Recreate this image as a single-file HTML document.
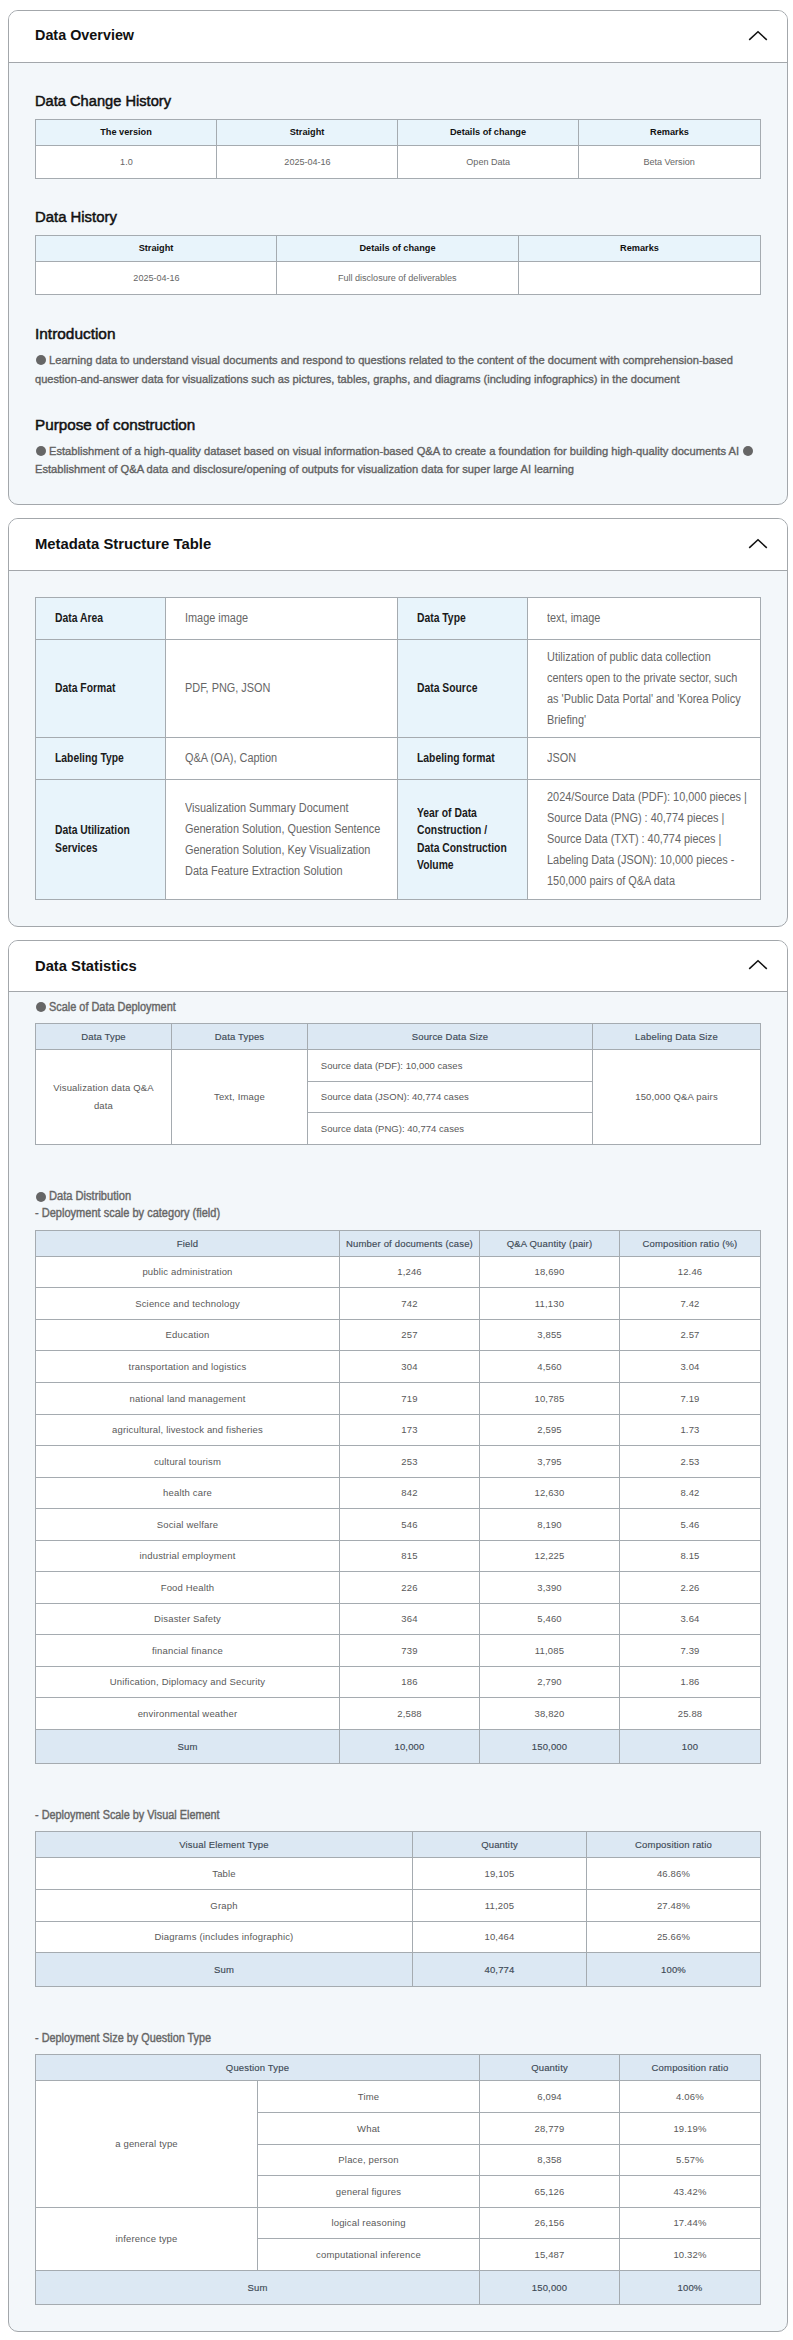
<!DOCTYPE html><html><head><meta charset="utf-8"><style>
*{margin:0;padding:0;box-sizing:border-box}
html,body{width:793px;height:2340px;overflow:hidden;background:#fff;font-family:"Liberation Sans",sans-serif}
body{position:relative}
.card{position:absolute;left:8px;width:780px;border:1px solid #a3a7ab;border-radius:10px;background:#f3f7fa;overflow:hidden}
.ch{background:#fff;border-bottom:1px solid #a3a7ab}
.chev{position:absolute;left:746px}
.t{position:absolute;white-space:nowrap;transform-origin:0 50%}
.title{font-weight:bold;color:#111111}
.h3{color:#111111;-webkit-text-stroke:0.5px #111111}
.p{color:#606060;-webkit-text-stroke:0.35px #606060}
.p3{color:#666666;-webkit-text-stroke:0.4px #666666}
.bul{position:absolute;border-radius:50%;background:#666}
.c{position:absolute;border:1px solid #a5abb0;display:flex;align-items:center;justify-content:center;text-align:center;white-space:nowrap}
.c span{display:block}
.th1{font-size:9.2px;font-weight:bold;color:#111111}
.th1 span{transform:scaleX(1.0)}
.th1{padding-bottom:1.4px}
.td1{font-size:9.2px;color:#666666}
.td1 span{transform:scaleX(0.985)}
.th2{font-size:12.3px;font-weight:bold;color:#1a1a1a;justify-content:flex-start;text-align:left;padding-left:19.4px;line-height:17.5px}
.th2 span{transform:scaleX(0.842);transform-origin:0 50%}
.td2{font-size:12.3px;color:#666666;justify-content:flex-start;text-align:left;padding-left:19.2px;line-height:21px}
.td2 span{transform:scaleX(0.887);transform-origin:0 50%}
.th3{font-size:9.5px;color:#3e4a56;letter-spacing:0.17px;-webkit-text-stroke:0.15px #3e4a56}
.td3{font-size:9.5px;color:#595959;letter-spacing:0.17px;padding-bottom:0.8px}
.td3.lh{line-height:17.4px}
.td3.left{justify-content:flex-start;padding-left:12.8px;letter-spacing:0.02px}
</style></head><body>
<div class="card" style="top:10px;height:495px"><div class="ch" style="height:52px"></div></div>
<div class="card" style="top:518px;height:409px"><div class="ch" style="height:52px"></div></div>
<div class="card" style="top:940px;height:1392px"><div class="ch" style="height:51px"></div></div>
<svg class="chev" style="top:25.5px" width="24" height="20" viewBox="0 0 24 20"><polyline points="3.2,13.9 12,5.7 20.8,13.9" fill="none" stroke="#111" stroke-width="1.5"/></svg>
<svg class="chev" style="top:533.5px" width="24" height="20" viewBox="0 0 24 20"><polyline points="3.2,13.9 12,5.7 20.8,13.9" fill="none" stroke="#111" stroke-width="1.5"/></svg>
<svg class="chev" style="top:955.1px" width="24" height="20" viewBox="0 0 24 20"><polyline points="3.2,13.9 12,5.7 20.8,13.9" fill="none" stroke="#111" stroke-width="1.5"/></svg>
<div class="t title" style="left:35.04px;top:26.43px;font-size:15.5px;line-height:18.6px;transform:scaleX(0.9271);">Data Overview</div>
<div class="t title" style="left:35.02px;top:534.53px;font-size:15.5px;line-height:18.6px;transform:scaleX(0.9571);">Metadata Structure Table</div>
<div class="t title" style="left:35.02px;top:956.53px;font-size:15.5px;line-height:18.6px;transform:scaleX(0.9519);">Data Statistics</div>
<div class="t h3" style="left:35.40px;top:91.73px;font-size:15.5px;line-height:18.6px;transform:scaleX(0.9451);">Data Change History</div>
<div class="c th1" style="left:35px;top:119px;width:182px;height:27px;background:#e8f4fb"><span>The version</span></div>
<div class="c td1" style="left:35px;top:145px;width:182px;height:34px;background:#fff"><span>1.0</span></div>
<div class="c th1" style="left:216px;top:119px;width:182px;height:27px;background:#e8f4fb"><span>Straight</span></div>
<div class="c td1" style="left:216px;top:145px;width:182px;height:34px;background:#fff"><span>2025-04-16</span></div>
<div class="c th1" style="left:397px;top:119px;width:182px;height:27px;background:#e8f4fb"><span>Details of change</span></div>
<div class="c td1" style="left:397px;top:145px;width:182px;height:34px;background:#fff"><span>Open Data</span></div>
<div class="c th1" style="left:578px;top:119px;width:183px;height:27px;background:#e8f4fb"><span>Remarks</span></div>
<div class="c td1" style="left:578px;top:145px;width:183px;height:34px;background:#fff"><span>Beta Version</span></div>
<div class="t h3" style="left:34.62px;top:207.83px;font-size:15.5px;line-height:18.6px;transform:scaleX(0.9600);">Data History</div>
<div class="c th1" style="left:35px;top:235px;width:242px;height:27px;background:#e8f4fb"><span>Straight</span></div>
<div class="c td1" style="left:35px;top:261px;width:242px;height:34px;background:#fff"><span>2025-04-16</span></div>
<div class="c th1" style="left:276px;top:235px;width:243px;height:27px;background:#e8f4fb"><span>Details of change</span></div>
<div class="c td1" style="left:276px;top:261px;width:243px;height:34px;background:#fff"><span>Full disclosure of deliverables</span></div>
<div class="c th1" style="left:518px;top:235px;width:243px;height:27px;background:#e8f4fb"><span>Remarks</span></div>
<div class="c td1" style="left:518px;top:261px;width:243px;height:34px;background:#fff"><span></span></div>
<div class="t h3" style="left:35.00px;top:324.73px;font-size:15.5px;line-height:18.6px;transform:scaleX(0.9938);">Introduction</div>
<div class="bul" style="left:36px;top:355.00px;width:10px;height:10px"></div>
<div class="t p" style="left:49.03px;top:353.13px;font-size:11.8px;line-height:14.16px;transform:scaleX(0.9447);">Learning data to understand visual documents and respond to questions related to the content of the document with comprehension-based</div>
<div class="t p" style="left:35.00px;top:371.53px;font-size:11.8px;line-height:14.16px;transform:scaleX(0.9396);">question-and-answer data for visualizations such as pictures, tables, graphs, and diagrams (including infographics) in the document</div>
<div class="t h3" style="left:35.01px;top:415.73px;font-size:15.5px;line-height:18.6px;transform:scaleX(0.9846);">Purpose of construction</div>
<div class="bul" style="left:36px;top:446.00px;width:10px;height:10px"></div>
<div class="t p" style="left:49.03px;top:444.13px;font-size:11.8px;line-height:14.16px;transform:scaleX(0.9454);">Establishment of a high-quality dataset based on visual information-based Q&amp;A to create a foundation for building high-quality documents AI</div>
<div class="bul" style="left:743px;top:446.00px;width:10px;height:10px"></div>
<div class="t p" style="left:35.00px;top:461.73px;font-size:11.8px;line-height:14.16px;transform:scaleX(0.9456);">Establishment of Q&amp;A data and disclosure/opening of outputs for visualization data for super large AI learning</div>
<div class="c th2" style="left:35px;top:597px;width:131px;height:43px;background:#e8f4fb"><span>Data Area</span></div>
<div class="c td2" style="left:165px;top:597px;width:233px;height:43px;background:#fff"><span>Image image</span></div>
<div class="c th2" style="left:397px;top:597px;width:131px;height:43px;background:#e8f4fb"><span>Data Type</span></div>
<div class="c td2" style="left:527px;top:597px;width:234px;height:43px;background:#fff"><span>text, image</span></div>
<div class="c th2" style="left:35px;top:639px;width:131px;height:99px;background:#e8f4fb"><span>Data Format</span></div>
<div class="c td2" style="left:165px;top:639px;width:233px;height:99px;background:#fff"><span>PDF, PNG, JSON</span></div>
<div class="c th2" style="left:397px;top:639px;width:131px;height:99px;background:#e8f4fb"><span>Data Source</span></div>
<div class="c td2" style="left:527px;top:639px;width:234px;height:99px;background:#fff"><span>Utilization of public data collection<br>centers open to the private sector, such<br>as 'Public Data Portal' and 'Korea Policy<br>Briefing'</span></div>
<div class="c th2" style="left:35px;top:737px;width:131px;height:43px;background:#e8f4fb"><span>Labeling Type</span></div>
<div class="c td2" style="left:165px;top:737px;width:233px;height:43px;background:#fff"><span>Q&amp;A (OA), Caption</span></div>
<div class="c th2" style="left:397px;top:737px;width:131px;height:43px;background:#e8f4fb"><span>Labeling format</span></div>
<div class="c td2" style="left:527px;top:737px;width:234px;height:43px;background:#fff"><span>JSON</span></div>
<div class="c th2" style="left:35px;top:779px;width:131px;height:121px;background:#e8f4fb"><span>Data Utilization<br>Services</span></div>
<div class="c td2" style="left:165px;top:779px;width:233px;height:121px;background:#fff"><span>Visualization Summary Document<br>Generation Solution, Question Sentence<br>Generation Solution, Key Visualization<br>Data Feature Extraction Solution</span></div>
<div class="c th2" style="left:397px;top:779px;width:131px;height:121px;background:#e8f4fb"><span>Year of Data<br>Construction /<br>Data Construction<br>Volume</span></div>
<div class="c td2" style="left:527px;top:779px;width:234px;height:121px;background:#fff"><span>2024/Source Data (PDF): 10,000 pieces |<br>Source Data (PNG) : 40,774 pieces |<br>Source Data (TXT) : 40,774 pieces |<br>Labeling Data (JSON): 10,000 pieces -<br>150,000 pairs of Q&amp;A data</span></div>
<div class="bul" style="left:36px;top:1001.90px;width:10px;height:10px"></div>
<div class="t p3" style="left:48.85px;top:999.84px;font-size:12px;line-height:14.4px;transform:scaleX(0.9094);">Scale of Data Deployment</div>
<div class="c th3" style="left:35px;top:1023px;width:137px;height:27px;background:#dce8f3"><span>Data Type</span></div>
<div class="c th3" style="left:171px;top:1023px;width:137px;height:27px;background:#dce8f3"><span>Data Types</span></div>
<div class="c th3" style="left:307px;top:1023px;width:286px;height:27px;background:#dce8f3"><span>Source Data Size</span></div>
<div class="c th3" style="left:592px;top:1023px;width:169px;height:27px;background:#dce8f3"><span>Labeling Data Size</span></div>
<div class="c td3 lh" style="left:35px;top:1049px;width:137px;height:96px;background:#fff"><span>Visualization data Q&amp;A<br>data</span></div>
<div class="c td3" style="left:171px;top:1049px;width:137px;height:96px;background:#fff"><span>Text, Image</span></div>
<div class="c td3 left" style="left:307px;top:1049px;width:286px;height:33px;background:#fff"><span>Source data (PDF): 10,000 cases</span></div>
<div class="c td3 left" style="left:307px;top:1081px;width:286px;height:32px;background:#fff"><span>Source data (JSON): 40,774 cases</span></div>
<div class="c td3 left" style="left:307px;top:1112px;width:286px;height:33px;background:#fff"><span>Source data (PNG): 40,774 cases</span></div>
<div class="c td3" style="left:592px;top:1049px;width:169px;height:96px;background:#fff"><span>150,000 Q&amp;A pairs</span></div>
<div class="bul" style="left:36px;top:1191.70px;width:10px;height:10px"></div>
<div class="t p3" style="left:48.84px;top:1189.24px;font-size:12px;line-height:14.4px;transform:scaleX(0.9261);">Data Distribution</div>
<div class="t p3" style="left:35.00px;top:1206.44px;font-size:12px;line-height:14.4px;transform:scaleX(0.9189);">- Deployment scale by category (field)</div>
<div class="c th3" style="left:35px;top:1230px;width:305px;height:27px;background:#dce8f3"><span>Field</span></div>
<div class="c th3" style="left:339px;top:1230px;width:141px;height:27px;background:#dce8f3"><span>Number of documents (case)</span></div>
<div class="c th3" style="left:479px;top:1230px;width:141px;height:27px;background:#dce8f3"><span>Q&amp;A Quantity (pair)</span></div>
<div class="c th3" style="left:619px;top:1230px;width:142px;height:27px;background:#dce8f3"><span>Composition ratio (%)</span></div>
<div class="c td3" style="left:35px;top:1256px;width:305px;height:32px;background:#fff"><span>public administration</span></div>
<div class="c td3" style="left:339px;top:1256px;width:141px;height:32px;background:#fff"><span>1,246</span></div>
<div class="c td3" style="left:479px;top:1256px;width:141px;height:32px;background:#fff"><span>18,690</span></div>
<div class="c td3" style="left:619px;top:1256px;width:142px;height:32px;background:#fff"><span>12.46</span></div>
<div class="c td3" style="left:35px;top:1287px;width:305px;height:33px;background:#fff"><span>Science and technology</span></div>
<div class="c td3" style="left:339px;top:1287px;width:141px;height:33px;background:#fff"><span>742</span></div>
<div class="c td3" style="left:479px;top:1287px;width:141px;height:33px;background:#fff"><span>11,130</span></div>
<div class="c td3" style="left:619px;top:1287px;width:142px;height:33px;background:#fff"><span>7.42</span></div>
<div class="c td3" style="left:35px;top:1319px;width:305px;height:32px;background:#fff"><span>Education</span></div>
<div class="c td3" style="left:339px;top:1319px;width:141px;height:32px;background:#fff"><span>257</span></div>
<div class="c td3" style="left:479px;top:1319px;width:141px;height:32px;background:#fff"><span>3,855</span></div>
<div class="c td3" style="left:619px;top:1319px;width:142px;height:32px;background:#fff"><span>2.57</span></div>
<div class="c td3" style="left:35px;top:1350px;width:305px;height:33px;background:#fff"><span>transportation and logistics</span></div>
<div class="c td3" style="left:339px;top:1350px;width:141px;height:33px;background:#fff"><span>304</span></div>
<div class="c td3" style="left:479px;top:1350px;width:141px;height:33px;background:#fff"><span>4,560</span></div>
<div class="c td3" style="left:619px;top:1350px;width:142px;height:33px;background:#fff"><span>3.04</span></div>
<div class="c td3" style="left:35px;top:1382px;width:305px;height:33px;background:#fff"><span>national land management</span></div>
<div class="c td3" style="left:339px;top:1382px;width:141px;height:33px;background:#fff"><span>719</span></div>
<div class="c td3" style="left:479px;top:1382px;width:141px;height:33px;background:#fff"><span>10,785</span></div>
<div class="c td3" style="left:619px;top:1382px;width:142px;height:33px;background:#fff"><span>7.19</span></div>
<div class="c td3" style="left:35px;top:1414px;width:305px;height:32px;background:#fff"><span>agricultural, livestock and fisheries</span></div>
<div class="c td3" style="left:339px;top:1414px;width:141px;height:32px;background:#fff"><span>173</span></div>
<div class="c td3" style="left:479px;top:1414px;width:141px;height:32px;background:#fff"><span>2,595</span></div>
<div class="c td3" style="left:619px;top:1414px;width:142px;height:32px;background:#fff"><span>1.73</span></div>
<div class="c td3" style="left:35px;top:1445px;width:305px;height:33px;background:#fff"><span>cultural tourism</span></div>
<div class="c td3" style="left:339px;top:1445px;width:141px;height:33px;background:#fff"><span>253</span></div>
<div class="c td3" style="left:479px;top:1445px;width:141px;height:33px;background:#fff"><span>3,795</span></div>
<div class="c td3" style="left:619px;top:1445px;width:142px;height:33px;background:#fff"><span>2.53</span></div>
<div class="c td3" style="left:35px;top:1477px;width:305px;height:32px;background:#fff"><span>health care</span></div>
<div class="c td3" style="left:339px;top:1477px;width:141px;height:32px;background:#fff"><span>842</span></div>
<div class="c td3" style="left:479px;top:1477px;width:141px;height:32px;background:#fff"><span>12,630</span></div>
<div class="c td3" style="left:619px;top:1477px;width:142px;height:32px;background:#fff"><span>8.42</span></div>
<div class="c td3" style="left:35px;top:1508px;width:305px;height:33px;background:#fff"><span>Social welfare</span></div>
<div class="c td3" style="left:339px;top:1508px;width:141px;height:33px;background:#fff"><span>546</span></div>
<div class="c td3" style="left:479px;top:1508px;width:141px;height:33px;background:#fff"><span>8,190</span></div>
<div class="c td3" style="left:619px;top:1508px;width:142px;height:33px;background:#fff"><span>5.46</span></div>
<div class="c td3" style="left:35px;top:1540px;width:305px;height:32px;background:#fff"><span>industrial employment</span></div>
<div class="c td3" style="left:339px;top:1540px;width:141px;height:32px;background:#fff"><span>815</span></div>
<div class="c td3" style="left:479px;top:1540px;width:141px;height:32px;background:#fff"><span>12,225</span></div>
<div class="c td3" style="left:619px;top:1540px;width:142px;height:32px;background:#fff"><span>8.15</span></div>
<div class="c td3" style="left:35px;top:1571px;width:305px;height:33px;background:#fff"><span>Food Health</span></div>
<div class="c td3" style="left:339px;top:1571px;width:141px;height:33px;background:#fff"><span>226</span></div>
<div class="c td3" style="left:479px;top:1571px;width:141px;height:33px;background:#fff"><span>3,390</span></div>
<div class="c td3" style="left:619px;top:1571px;width:142px;height:33px;background:#fff"><span>2.26</span></div>
<div class="c td3" style="left:35px;top:1603px;width:305px;height:32px;background:#fff"><span>Disaster Safety</span></div>
<div class="c td3" style="left:339px;top:1603px;width:141px;height:32px;background:#fff"><span>364</span></div>
<div class="c td3" style="left:479px;top:1603px;width:141px;height:32px;background:#fff"><span>5,460</span></div>
<div class="c td3" style="left:619px;top:1603px;width:142px;height:32px;background:#fff"><span>3.64</span></div>
<div class="c td3" style="left:35px;top:1634px;width:305px;height:33px;background:#fff"><span>financial finance</span></div>
<div class="c td3" style="left:339px;top:1634px;width:141px;height:33px;background:#fff"><span>739</span></div>
<div class="c td3" style="left:479px;top:1634px;width:141px;height:33px;background:#fff"><span>11,085</span></div>
<div class="c td3" style="left:619px;top:1634px;width:142px;height:33px;background:#fff"><span>7.39</span></div>
<div class="c td3" style="left:35px;top:1666px;width:305px;height:32px;background:#fff"><span>Unification, Diplomacy and Security</span></div>
<div class="c td3" style="left:339px;top:1666px;width:141px;height:32px;background:#fff"><span>186</span></div>
<div class="c td3" style="left:479px;top:1666px;width:141px;height:32px;background:#fff"><span>2,790</span></div>
<div class="c td3" style="left:619px;top:1666px;width:142px;height:32px;background:#fff"><span>1.86</span></div>
<div class="c td3" style="left:35px;top:1697px;width:305px;height:33px;background:#fff"><span>environmental weather</span></div>
<div class="c td3" style="left:339px;top:1697px;width:141px;height:33px;background:#fff"><span>2,588</span></div>
<div class="c td3" style="left:479px;top:1697px;width:141px;height:33px;background:#fff"><span>38,820</span></div>
<div class="c td3" style="left:619px;top:1697px;width:142px;height:33px;background:#fff"><span>25.88</span></div>
<div class="c th3" style="left:35px;top:1729px;width:305px;height:35px;background:#dce8f3"><span>Sum</span></div>
<div class="c th3" style="left:339px;top:1729px;width:141px;height:35px;background:#dce8f3"><span>10,000</span></div>
<div class="c th3" style="left:479px;top:1729px;width:141px;height:35px;background:#dce8f3"><span>150,000</span></div>
<div class="c th3" style="left:619px;top:1729px;width:142px;height:35px;background:#dce8f3"><span>100</span></div>
<div class="t p3" style="left:35.00px;top:1807.54px;font-size:12px;line-height:14.4px;transform:scaleX(0.9054);">- Deployment Scale by Visual Element</div>
<div class="c th3" style="left:35px;top:1831px;width:378px;height:27px;background:#dce8f3"><span>Visual Element Type</span></div>
<div class="c th3" style="left:412px;top:1831px;width:175px;height:27px;background:#dce8f3"><span>Quantity</span></div>
<div class="c th3" style="left:586px;top:1831px;width:175px;height:27px;background:#dce8f3"><span>Composition ratio</span></div>
<div class="c td3" style="left:35px;top:1857px;width:378px;height:33px;background:#fff"><span>Table</span></div>
<div class="c td3" style="left:412px;top:1857px;width:175px;height:33px;background:#fff"><span>19,105</span></div>
<div class="c td3" style="left:586px;top:1857px;width:175px;height:33px;background:#fff"><span>46.86%</span></div>
<div class="c td3" style="left:35px;top:1889px;width:378px;height:33px;background:#fff"><span>Graph</span></div>
<div class="c td3" style="left:412px;top:1889px;width:175px;height:33px;background:#fff"><span>11,205</span></div>
<div class="c td3" style="left:586px;top:1889px;width:175px;height:33px;background:#fff"><span>27.48%</span></div>
<div class="c td3" style="left:35px;top:1921px;width:378px;height:32px;background:#fff"><span>Diagrams (includes infographic)</span></div>
<div class="c td3" style="left:412px;top:1921px;width:175px;height:32px;background:#fff"><span>10,464</span></div>
<div class="c td3" style="left:586px;top:1921px;width:175px;height:32px;background:#fff"><span>25.66%</span></div>
<div class="c th3" style="left:35px;top:1952px;width:378px;height:35px;background:#dce8f3"><span>Sum</span></div>
<div class="c th3" style="left:412px;top:1952px;width:175px;height:35px;background:#dce8f3"><span>40,774</span></div>
<div class="c th3" style="left:586px;top:1952px;width:175px;height:35px;background:#dce8f3"><span>100%</span></div>
<div class="t p3" style="left:35.00px;top:2030.74px;font-size:12px;line-height:14.4px;transform:scaleX(0.9052);">- Deployment Size by Question Type</div>
<div class="c th3" style="left:35px;top:2054px;width:445px;height:27px;background:#dce8f3"><span>Question Type</span></div>
<div class="c th3" style="left:479px;top:2054px;width:141px;height:27px;background:#dce8f3"><span>Quantity</span></div>
<div class="c th3" style="left:619px;top:2054px;width:142px;height:27px;background:#dce8f3"><span>Composition ratio</span></div>
<div class="c td3" style="left:35px;top:2080px;width:223px;height:128px;background:#fff"><span>a general type</span></div>
<div class="c td3" style="left:35px;top:2207px;width:223px;height:64px;background:#fff"><span>inference type</span></div>
<div class="c td3" style="left:257px;top:2080px;width:223px;height:33px;background:#fff"><span>Time</span></div>
<div class="c td3" style="left:479px;top:2080px;width:141px;height:33px;background:#fff"><span>6,094</span></div>
<div class="c td3" style="left:619px;top:2080px;width:142px;height:33px;background:#fff"><span>4.06%</span></div>
<div class="c td3" style="left:257px;top:2112px;width:223px;height:33px;background:#fff"><span>What</span></div>
<div class="c td3" style="left:479px;top:2112px;width:141px;height:33px;background:#fff"><span>28,779</span></div>
<div class="c td3" style="left:619px;top:2112px;width:142px;height:33px;background:#fff"><span>19.19%</span></div>
<div class="c td3" style="left:257px;top:2144px;width:223px;height:32px;background:#fff"><span>Place, person</span></div>
<div class="c td3" style="left:479px;top:2144px;width:141px;height:32px;background:#fff"><span>8,358</span></div>
<div class="c td3" style="left:619px;top:2144px;width:142px;height:32px;background:#fff"><span>5.57%</span></div>
<div class="c td3" style="left:257px;top:2175px;width:223px;height:33px;background:#fff"><span>general figures</span></div>
<div class="c td3" style="left:479px;top:2175px;width:141px;height:33px;background:#fff"><span>65,126</span></div>
<div class="c td3" style="left:619px;top:2175px;width:142px;height:33px;background:#fff"><span>43.42%</span></div>
<div class="c td3" style="left:257px;top:2207px;width:223px;height:32px;background:#fff"><span>logical reasoning</span></div>
<div class="c td3" style="left:479px;top:2207px;width:141px;height:32px;background:#fff"><span>26,156</span></div>
<div class="c td3" style="left:619px;top:2207px;width:142px;height:32px;background:#fff"><span>17.44%</span></div>
<div class="c td3" style="left:257px;top:2238px;width:223px;height:33px;background:#fff"><span>computational inference</span></div>
<div class="c td3" style="left:479px;top:2238px;width:141px;height:33px;background:#fff"><span>15,487</span></div>
<div class="c td3" style="left:619px;top:2238px;width:142px;height:33px;background:#fff"><span>10.32%</span></div>
<div class="c th3" style="left:35px;top:2270px;width:445px;height:35px;background:#dce8f3"><span>Sum</span></div>
<div class="c th3" style="left:479px;top:2270px;width:141px;height:35px;background:#dce8f3"><span>150,000</span></div>
<div class="c th3" style="left:619px;top:2270px;width:142px;height:35px;background:#dce8f3"><span>100%</span></div>
</body></html>
